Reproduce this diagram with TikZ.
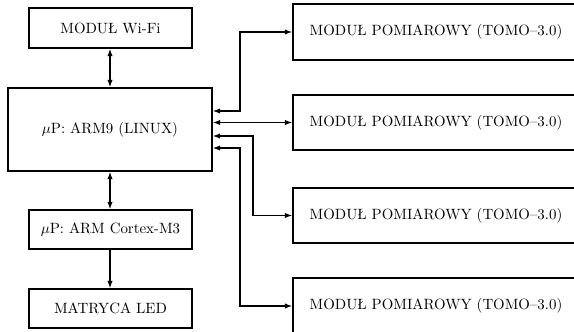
\documentclass[tikz,border=0pt]{standalone}
\usetikzlibrary{arrows.meta}
\begin{document}
\begin{tikzpicture}[x=0.672pt,y=-0.672pt,
  box/.style={draw,line width=0.9pt,inner sep=0pt,font=\normalsize},
  lbox/.style={box,minimum width={163*0.672pt},minimum height={40*0.672pt}},
  mbox/.style={box,minimum width={286*0.672pt},minimum height={56*0.672pt}},
  conn/.style={line width=0.9pt,arrows={-Latex[length=5pt,width=3.6pt]}},
  bconn/.style={line width=0.9pt,arrows={Latex[length=5pt,width=3.6pt]-Latex[length=5pt,width=3.6pt]}}]
\useasboundingbox (0,0) rectangle (574,332);
\clip (0,0) rectangle (574,332);
\node[lbox] (wifi) at (110.5,28) {MODUŁ Wi-Fi};
\node[box,minimum width={204*0.672pt},minimum height={83*0.672pt}] (arm) at (110,129.5) {$\mu$P: ARM9 (LINUX)};
\node[lbox,minimum height={39*0.672pt}] (cortex) at (110.5,229.5) {$\mu$P: ARM Cortex-M3};
\node[lbox,minimum height={39*0.672pt}] (led) at (110.5,308.5) {MATRYCA LED};
\node[mbox] (m1) at (436,32) {MODUŁ POMIAROWY (TOMO--3.0)};
\node[mbox,minimum height={55*0.672pt}] (m2) at (436,122.5) {MODUŁ POMIAROWY (TOMO--3.0)};
\node[mbox,minimum height={55*0.672pt}] (m3) at (436,215.5) {MODUŁ POMIAROWY (TOMO--3.0)};
\node[mbox] (m4) at (436,306) {MODUŁ POMIAROWY (TOMO--3.0)};
\coordinate (c1) at (240,32);
\coordinate (c3) at (253,215.5);
\coordinate (c4) at (240,306);
\draw[bconn] (wifi.south -| arm.north) -- (arm.north);
\draw[bconn] (arm.south) -- (cortex.north -| arm.south);
\draw[conn] (cortex.south -| arm.south) -- (led.north -| arm.south);
\draw[bconn] (arm.east |- 0,111) -| (c1) -- (m1.west);
\draw[bconn] (arm.east |- m2.west) -- (m2.west);
\draw[bconn] (arm.east |- 0,136) -| (c3) -- (m3.west);
\draw[bconn] (arm.east |- 0,148) -| (c4) -- (m4.west);
\end{tikzpicture}
\end{document}
